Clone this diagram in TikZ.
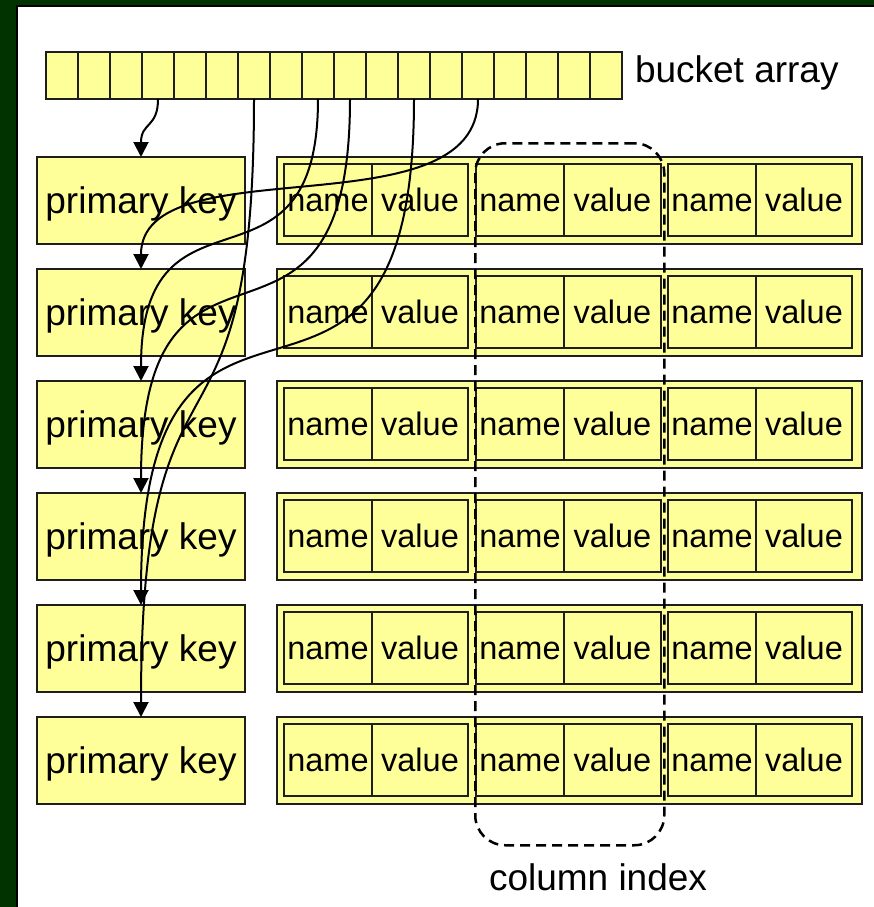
\documentclass[tikz,border=0pt]{standalone}
\usepackage{fontspec}
\setmainfont{Liberation Sans}
\usetikzlibrary{arrows.meta}
\definecolor{boxyellow}{RGB}{255,255,153}
\definecolor{framegreen}{RGB}{0,51,0}
\definecolor{edgegray}{RGB}{30,30,30}
\begin{document}
\begin{tikzpicture}[x=1pt,y=-1pt,
  cellbox/.style={draw=edgegray, line width=2pt, fill=boxyellow, inner sep=0pt, outer sep=0pt, anchor=north west},
  pkbox/.style={cellbox, minimum width=208pt, minimum height=87pt, font=\fontsize{37}{40}\selectfont, text height=26pt, text depth=1pt},
  rowbox/.style={cellbox, minimum width=585pt, minimum height=87pt},
  namebox/.style={cellbox, minimum width=88pt, minimum height=72.5pt, font=\fontsize{32.5}{36}\selectfont, text height=24pt, text depth=0pt},
  valuebox/.style={namebox, minimum width=96pt},
  bucketcell/.style={cellbox, minimum width=32pt, minimum height=47pt},
  labeltext/.style={inner sep=0pt, outer sep=0pt, font=\fontsize{37}{40}\selectfont},
  ptr/.style={line width=2pt, black, -{Triangle[length=15pt,width=15pt]}},
  colidx/.style={draw=black, line width=2.5pt, dash pattern=on 10pt off 6pt, rounded corners=30pt}
]
\useasboundingbox (0,0) rectangle (874,907);
\clip (0,0) rectangle (874,907);
% frame
\fill[framegreen] (0,0) rectangle (874,907);
\fill[white] (17,6) rectangle (874,907);
\draw[black, line width=2pt] (17,907) -- (17,6) -- (874,6);

% bucket array
\foreach \k in {0,...,17} {
  \node[bucketcell] (b\k) at ({46+32*\k},52) {};
}
\node[labeltext, anchor=base west] (bucketlabel) at (635,82) {bucket array};

% rows
\foreach \i in {1,...,6} {
  \pgfmathsetmacro{\top}{157+112*(\i-1)}
  \node[pkbox] (pk\i) at (37,\top) {primary key};
  \node[rowbox] (row\i) at (277,\top) {};
  \node[namebox]  (n\i a) at (284,\top+6.5) {name};
  \node[valuebox] (v\i a) at (372,\top+6.5) {value};
  \node[namebox]  (n\i b) at (476,\top+6.5) {name};
  \node[valuebox, minimum width=96.7pt] (v\i b) at (564,\top+6.5) {value};
  \node[namebox]  (n\i c) at (668,\top+6.5) {name};
  \node[valuebox] (v\i c) at (756,\top+6.5) {value};
}

% column index
\node[colidx, minimum width=189pt, minimum height=702pt, anchor=north west] (ci) at (474,142) {};
\node[labeltext, anchor=base] (cilabel) at (598,890) {column index};

% pointers
\draw[ptr] (b3.south)  .. controls +(0,29)  and +(0,-35)  .. (pk1.north);
\draw[ptr] (b13.south) .. controls +(0,135) and +(0,-125) .. (pk2.north);
\draw[ptr] (b8.south)  .. controls +(0,215) and +(0,-215) .. (pk3.north);
\draw[ptr] (b9.south)  .. controls +(0,311) and +(0,-314) .. (pk4.north);
\draw[ptr] (b11.south) .. controls +(0,414) and +(0,-418) .. (pk5.north);
\draw[ptr] (b6.south)  .. controls +(0,399) and +(0,-408) .. (pk6.north);
\end{tikzpicture}
\end{document}
